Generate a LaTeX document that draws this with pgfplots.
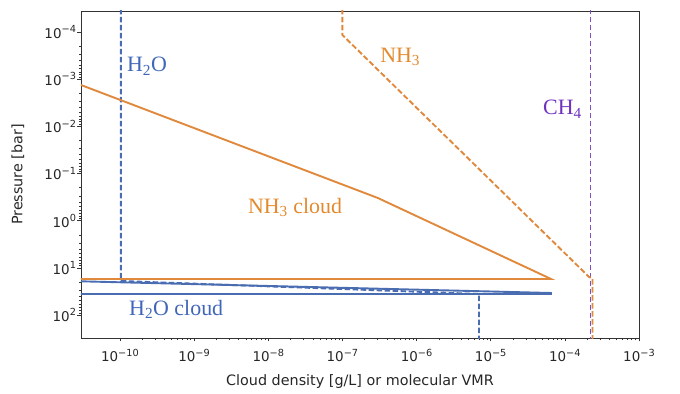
\documentclass[border=0pt]{standalone}
\usepackage{fontspec}
\setmainfont{Liberation Serif}
\newfontfamily\dejavu{DejaVu Sans}
\usepackage{pgfplots}
\pgfplotsset{compat=1.18}
\definecolor{lblue}{HTML}{4A6DB2}
\definecolor{lorange}{HTML}{E0893C}
\definecolor{lpurple}{HTML}{7E4FC4}
\definecolor{tblue}{HTML}{3F66B8}
\definecolor{torange}{HTML}{E38A2E}
\definecolor{tpurple}{HTML}{7033C0}
\newcommand{\tsup}[1]{\raisebox{0.42em}{\fontsize{9.8}{10}\selectfont #1}}
\newcommand{\tl}[1]{10\tsup{−#1}}
\begin{document}
\begin{tikzpicture}[x=1bp,y=1bp]
\begin{axis}[
  at={(0,0)}, anchor=south west,
  width=558bp, height=327bp, scale only axis,
  xmode=log, ymode=log, y dir=reverse,
  xmin=2.98e-11, xmax=1e-3, ymin=3.59e-5, ymax=307,
  xtick={1e-10,1e-9,1e-8,1e-7,1e-6,1e-5,1e-4,1e-3},
  xticklabels={\tl{10},\tl{9},\tl{8},\tl{7},\tl{6},\tl{5},\tl{4},\tl{3}},
  ytick={1e-4,1e-3,1e-2,1e-1,1,10,100},
  yticklabels={\tl{4},\tl{3},\tl{2},\tl{1},10\tsup{0},10\tsup{1},10\tsup{2}},
  tick align=outside, tick pos=left,
  major tick length=3.5bp, minor tick length=2bp,
  ticklabel style={font=\dejavu\fontsize{13.5}{15}\selectfont, text=black!85},
  xticklabel style={yshift=-4bp},
  yticklabel style={xshift=2bp},
  axis line style={black!80, line width=0.9bp},
  every tick/.style={black!80, line width=0.7bp},
  xlabel={Cloud density [g/L] or molecular VMR},
  ylabel={Pressure [bar]},
  label style={font=\dejavu\fontsize{14.4}{16}\selectfont, text=black!85},
  xlabel style={at={(axis description cs:0.5,-0.144)}, anchor=base},
  ylabel style={at={(axis description cs:-0.113,0.5)}, anchor=center},
  clip=true,
]
% CH4 VMR
\addplot[lpurple, line width=1.9bp, dash pattern=on 5.5bp off 2.5bp] coordinates {(2.22e-4,1e-5)(2.22e-4,1000)};
% NH3 VMR
\addplot[lorange, line width=1.9bp, dash pattern=on 5.5bp off 2.5bp] coordinates {(1e-7,1e-5)(1e-7,1.16e-4)(2.12e-4,15.6)(2.36e-4,16.8)(2.36e-4,1000)};
% H2O VMR
\addplot[lblue, line width=1.9bp, dash pattern=on 5.5bp off 2.5bp] coordinates {(1.03e-10,1e-5)(1.03e-10,19.0)(6.95e-6,35.8)(6.95e-6,1000)};
% NH3 cloud
\addplot[lorange, line width=1.9bp] coordinates {(2.98e-11,1.33e-3)(3.0e-7,0.33)(6.5e-5,17.2)(2.98e-11,17.2)};
% H2O cloud
\addplot[lblue, line width=1.9bp] coordinates {(2.98e-11,19.3)(6.5e-5,34.1)(6.5e-5,35.8)(2.98e-11,35.8)};

\node[anchor=base west, inner sep=0pt, text=tblue, font=\fontsize{22}{24}\selectfont] at (rel axis cs:0.0824,0.8135) {H\textsubscript{2}O};
\node[anchor=base west, inner sep=0pt, text=torange, font=\fontsize{22}{24}\selectfont] at (rel axis cs:0.536,0.844) {NH\textsubscript{3}};
\node[anchor=base west, inner sep=0pt, text=tpurple, font=\fontsize{22}{24}\selectfont] at (rel axis cs:0.828,0.682) {CH\textsubscript{4}};
\node[anchor=base west, inner sep=0pt, text=torange, font=\fontsize{22}{24}\selectfont] at (rel axis cs:0.299,0.382) {NH\textsubscript{3} cloud};
\node[anchor=base west, inner sep=0pt, text=tblue, font=\fontsize{22}{24}\selectfont] at (rel axis cs:0.086,0.0703) {H\textsubscript{2}O cloud};
\end{axis}
\pgfresetboundingbox
\path (-81bp,-56bp) rectangle (599bp,338bp);
\end{tikzpicture}
\end{document}
